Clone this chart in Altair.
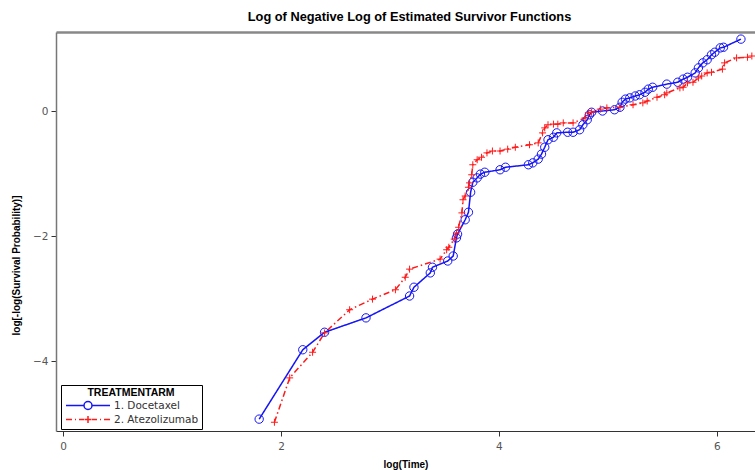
import altair as alt
import pandas as pd

# Docetaxel (arm 1) : log(Time), log[-log(S)]
doc_x = [1.80, 2.20, 2.40, 2.78, 3.18, 3.22, 3.37, 3.39, 3.53, 3.58, 3.61, 3.62,
         3.69, 3.72, 3.74, 3.76, 3.80, 3.83, 3.87, 4.01, 4.06, 4.27, 4.31, 4.36,
         4.39, 4.42, 4.45, 4.50, 4.53, 4.63, 4.68, 4.74, 4.77, 4.81, 4.83, 4.85,
         4.95, 5.06, 5.11, 5.13, 5.16, 5.20, 5.25, 5.29, 5.34, 5.37, 5.41, 5.54,
         5.64, 5.69, 5.73, 5.80, 5.83, 5.87, 5.91, 5.95, 5.98, 6.03, 6.06, 6.22]
doc_y = [-4.93, -3.82, -3.54, -3.31, -2.96, -2.82, -2.59, -2.50, -2.40, -2.32, -2.03, -1.97,
         -1.74, -1.62, -1.30, -1.14, -1.07, -1.01, -0.98, -0.94, -0.90, -0.86, -0.83, -0.77,
         -0.69, -0.58, -0.46, -0.42, -0.35, -0.34, -0.34, -0.30, -0.22, -0.14, -0.06, -0.02,
         0.00, 0.02, 0.06, 0.14, 0.19, 0.21, 0.24, 0.26, 0.30, 0.35, 0.38, 0.43,
         0.46, 0.51, 0.54, 0.61, 0.69, 0.77, 0.82, 0.90, 0.94, 1.01, 1.02, 1.15]

# Atezolizumab (arm 2)
ate_x = [1.94, 2.08, 2.29, 2.40, 2.63, 2.84, 3.05, 3.14, 3.18, 3.46, 3.52, 3.54,
         3.59, 3.61, 3.63, 3.66, 3.67, 3.69, 3.72, 3.73, 3.75, 3.76, 3.80, 3.84,
         3.89, 3.94, 4.01, 4.08, 4.15, 4.28, 4.36, 4.40, 4.42, 4.45, 4.50, 4.54,
         4.59, 4.68, 4.79, 4.82, 4.85, 4.93, 4.99, 5.11, 5.23, 5.32, 5.36, 5.45,
         5.52, 5.54, 5.66, 5.69, 5.73, 5.78, 5.83, 5.86, 5.91, 5.95, 6.05, 6.07,
         6.18, 6.28, 6.32]
ate_y = [-4.98, -4.27, -3.86, -3.55, -3.18, -3.01, -2.86, -2.66, -2.53, -2.37, -2.22, -2.18,
         -2.05, -1.95, -1.86, -1.63, -1.42, -1.36, -1.22, -1.15, -1.02, -0.86, -0.78, -0.74,
         -0.67, -0.64, -0.64, -0.61, -0.58, -0.54, -0.51, -0.35, -0.27, -0.22, -0.21, -0.21,
         -0.19, -0.19, -0.11, -0.03, -0.02, 0.03, 0.05, 0.06, 0.10, 0.13, 0.16, 0.22,
         0.26, 0.29, 0.37, 0.38, 0.45, 0.46, 0.53, 0.56, 0.61, 0.62, 0.67, 0.77,
         0.85, 0.86, 0.88]

arms = ["1. Docetaxel", "2. Atezolizumab"]
colors = ["#1414f5", "#ff1a1a"]

df = pd.concat([
    pd.DataFrame({"x": doc_x, "y": doc_y, "arm": arms[0]}),
    pd.DataFrame({"x": ate_x, "y": ate_y, "arm": arms[1]}),
])

FONT_T = "Liberation Sans"
FONT_L = "DejaVu Sans"

xscale = alt.Scale(domain=[-0.064, 6.349], nice=False, zero=False)
yscale = alt.Scale(domain=[-5.12, 1.264], nice=False, zero=False)
cscale = alt.Scale(domain=arms, range=colors)

yaxis = alt.Axis(values=[-4, -2, 0], title="log[-log(Survival Probability)]",
                 grid=False, tickSize=5, domainColor="#777", domainWidth=1.5,
                 tickColor="#333",
                 labelFont=FONT_L, labelFontSize=10.5, labelColor="#555",
                 labelPadding=3,
                 titleFont=FONT_T, titleFontSize=10, titleFontWeight="bold",
                 titleColor="#000", titleX=-35, titleY=233)

legend_paths = [
    "M-4.4,0H-0.8M0.8,0H4.4M0.8,0A0.8,0.8 0 1 1 -0.8,0A0.8,0.8 0 1 1 0.8,0",
    "M-4.4,0H-3.2M-2.6,0H-2.4M-1.8,0H-0.8M-0.7,0H0.7M0,-0.7V0.7M0.8,0H1.8M2.4,0H2.6M3.2,0H4.4",
]

lines = alt.Chart(df).mark_line(strokeWidth=1.5, clip=True).encode(
    x=alt.X("x:Q", scale=xscale,
            axis=alt.Axis(orient="bottom", values=[0, 2, 4, 6], title="log(Time)",
                          grid=False, tickSize=5, domainColor="#333", tickColor="#333",
                          labelFont=FONT_L, labelFontSize=10.5, labelColor="#555",
                          labelPadding=5,
                          titleFont=FONT_T, titleFontSize=10, titleFontWeight="bold",
                          titleColor="#000", titlePadding=8)),
    y=alt.Y("y:Q", scale=yscale, axis=yaxis),
    color=alt.Color("arm:N", scale=cscale, legend=None),
    strokeDash=alt.StrokeDash("arm:N", scale=alt.Scale(domain=arms, range=[[1, 0], [6, 3, 1.5, 3]]),
                              legend=None),
    order="x:Q",
)

points = alt.Chart(df).mark_point(filled=False, strokeWidth=1, opacity=1, clip=True).encode(
    x=alt.X("x:Q", scale=xscale,
            axis=alt.Axis(orient="top", labels=False, ticks=False, title=None,
                          grid=False, domainColor="#888", domainWidth=2.5)),
    y=alt.Y("y:Q", scale=yscale, axis=yaxis),
    color=alt.Color("arm:N", scale=cscale, legend=None),
    shape=alt.Shape("arm:N", scale=alt.Scale(domain=arms, range=["circle", "M-1,0H1M0,-1V1"]),
                    legend=None),
    size=alt.Size("arm:N", scale=alt.Scale(domain=arms, range=[70, 49]), legend=None),
)

leg = alt.Legend(title="TREATMENTARM", orient="none", legendX=5, legendY=353,
                 direction="vertical", symbolOpacity=1, symbolStrokeWidth=1.5)

legend_layer = alt.Chart(df).mark_point(filled=False, opacity=0, strokeWidth=1.5).encode(
    color=alt.Color("arm:N", scale=cscale, legend=leg),
    shape=alt.Shape("arm:N", scale=alt.Scale(domain=arms, range=legend_paths), legend=leg),
)

chart = alt.layer(lines, points, legend_layer).resolve_scale(
    shape="independent", color="independent"
).properties(
    width=699, height=399,
    title=alt.TitleParams("Log of Negative Log of Estimated Survivor Functions",
                          font=FONT_T, fontSize=12.8, fontWeight="bold", color="#000",
                          anchor="middle", offset=8, dx=4),
    autosize=alt.AutoSizeParams(type="none"),
    padding={"left": 56, "top": 32, "right": 0, "bottom": 39},
).configure_view(stroke=None).configure_legend(
    padding=3, strokeColor="#000", fillColor="white", cornerRadius=0,
    titleFont=FONT_T, titleFontSize=10.5, titleFontWeight="bold", titleColor="#000",
    titleAnchor="middle", titlePadding=1,
    labelFont=FONT_L, labelFontSize=10.5, labelColor="#333",
    symbolSize=100, symbolOffset=18, labelOffset=20, rowPadding=0,
)

chart.save("out.html", embed_options={"renderer": "svg", "actions": False})
